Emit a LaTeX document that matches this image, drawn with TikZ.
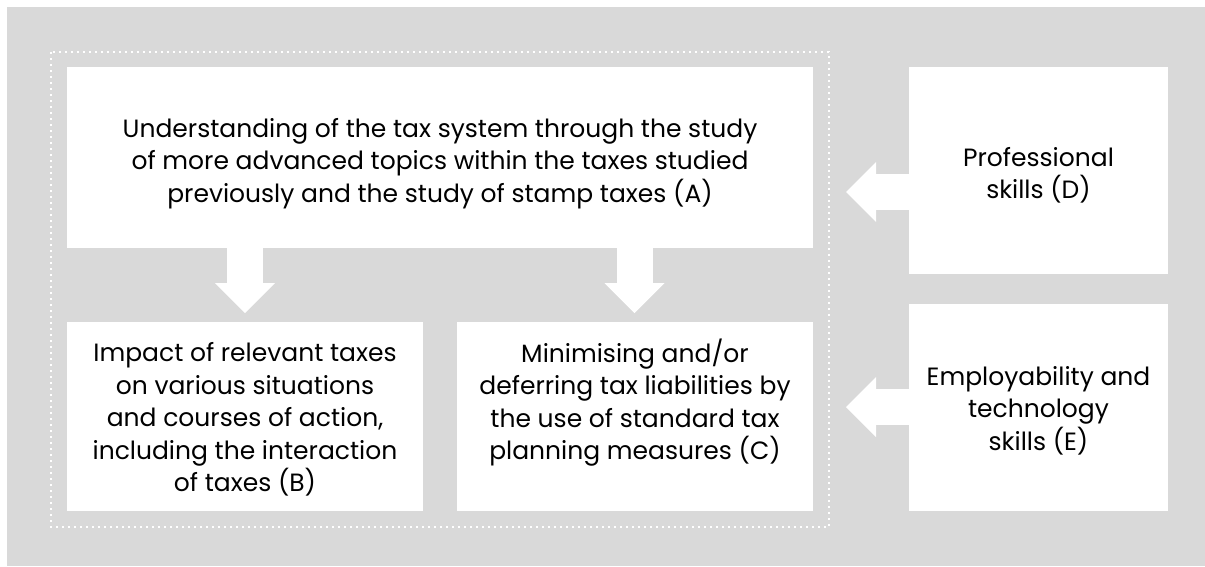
\documentclass[tikz,border=0pt]{standalone}
\usepackage{fontspec}
\setmainfont{Poppins}
\usepackage{xcolor}
\usepackage{tikz}
\usetikzlibrary{arrows.meta}

\definecolor{bggray}{HTML}{D9D9D9}

\tikzset{
  box/.style={fill=white, inner sep=0pt},
  boxtext/.style={inner sep=0pt, align=center,
    font=\fontsize{25}{32.5}\selectfont},
  bigarrow/.style={white, line width=36pt,
    -{Triangle[length=30pt 0 0, width=60pt 0 0, line width=0pt 0 0]}},
}

\begin{document}
\begin{tikzpicture}[x=1pt,y=-1pt]
\useasboundingbox (0,0) rectangle (1205,566);
\fill[bggray] (7,7) rectangle (1205,566);
\draw[white, line width=1.8pt, dash pattern=on 1.8pt off 4.2pt] (51,52) rectangle (829,527);

% the five boxes
\node[box, minimum width=746pt, minimum height=181pt] (A) at (440,157.5) {};
\node[box, minimum width=356pt, minimum height=189pt] (B) at (245,416.5) {};
\node[box, minimum width=356pt, minimum height=189pt] (C) at (635,416.5) {};
\node[box, minimum width=259pt, minimum height=207pt] (D) at (1038.5,170.5) {};
\node[box, minimum width=259pt, minimum height=207pt] (E) at (1038.5,407.5) {};

% their texts
\node[boxtext] (Atext) at ([yshift=-6pt]A.center)
  {Understanding of the tax system through the study\\
   of more advanced topics within the taxes studied\\
   previously and the study of stamp taxes (A)};
\node[boxtext] (Btext) at ([yshift=-3pt]B.center)
  {Impact of relevant taxes\\ on various situations\\ and courses of action,\\
   including the interaction\\ of taxes (B)};
\node[boxtext] (Ctext) at ([yshift=14pt]C.center)
  {Minimising and/or\\ deferring tax liabilities by\\ the use of standard tax\\
   planning measures (C)};
\node[boxtext] (Dtext) at ([yshift=-5pt]D.center)
  {Professional\\ skills (D)};
\node[boxtext] (Etext) at ([yshift=-3pt]E.center)
  {Employability and\\ technology\\ skills (E)};

% block arrows
\coordinate (tipB) at (245,313);
\draw[bigarrow] (A.south -| tipB) -- (tipB);
\coordinate (tipC) at (634.5,313);
\draw[bigarrow] (A.south -| tipC) -- (tipC);
\coordinate (tipD) at (846,192);
\draw[bigarrow] (D.west |- tipD) -- (tipD);
\coordinate (tipE) at (846,407);
\draw[bigarrow] (E.west |- tipE) -- (tipE);
\end{tikzpicture}
\end{document}
